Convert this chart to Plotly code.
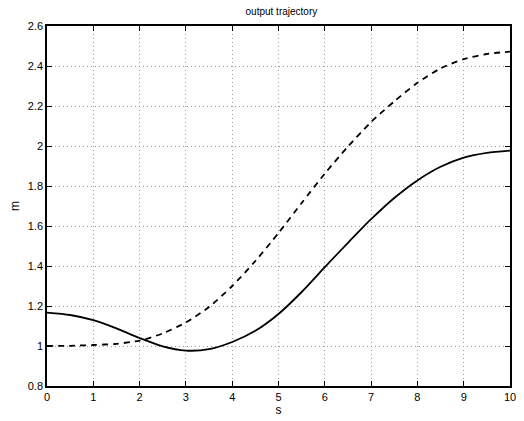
import plotly.graph_objects as go

x_vals = [0, 0.5, 1, 1.5, 2, 2.5, 3, 3.5, 4, 4.5, 5, 5.5, 6, 6.5, 7, 7.5, 8, 8.5, 9, 9.5, 10]
solid_vals = [1.167, 1.155, 1.129, 1.088, 1.04, 0.998, 0.977, 0.984, 1.02, 1.076, 1.16, 1.27, 1.394, 1.516,
              1.634, 1.74, 1.828, 1.896, 1.942, 1.966, 1.977]
dashed_vals = [1.0, 1.001, 1.005, 1.011, 1.027, 1.063, 1.118, 1.195, 1.30, 1.425, 1.565, 1.715, 1.862, 1.997,
               2.12, 2.223, 2.316, 2.388, 2.434, 2.46, 2.472]
x_ticks = [0, 1, 2, 3, 4, 5, 6, 7, 8, 9, 10]
y_ticks = [0.8, 1.0, 1.2, 1.4, 1.6, 1.8, 2.0, 2.2, 2.4, 2.6]
y_tick_text = ["0.8", "1", "1.2", "1.4", "1.6", "1.8", "2", "2.2", "2.4", "2.6"]

FONT = "Liberation Sans, Arial, sans-serif"

fig = go.Figure()
fig.add_trace(go.Scatter(x=x_vals, y=solid_vals, mode="lines",
                         line=dict(color="black", width=1.8, shape="spline", smoothing=0.7),
                         showlegend=False))
fig.add_trace(go.Scatter(x=x_vals, y=dashed_vals, mode="lines",
                         line=dict(color="black", width=1.8, dash="6px,5px", shape="spline", smoothing=0.7),
                         showlegend=False))

axis_common = dict(
    showline=True, linecolor="black", linewidth=1.5, mirror="allticks",
    ticks="inside", ticklen=5, tickcolor="black", tickwidth=1,
    showgrid=True, gridcolor="#9a9a9a", griddash="1px,3px", gridwidth=1,
    zeroline=False,
    tickfont=dict(family=FONT, size=11, color="black"),
)

fig.update_xaxes(range=[0, 10], tickvals=x_ticks,
                 title=dict(text="s", standoff=2, font=dict(family=FONT, size=12, color="black")),
                 **axis_common)
fig.update_yaxes(range=[0.8, 2.6], tickvals=y_ticks, ticktext=y_tick_text,
                 title=dict(text="m", standoff=6, font=dict(family=FONT, size=12, color="black")),
                 **axis_common)

fig.update_layout(
    width=524, height=421,
    margin=dict(l=47, r=8, t=26, b=29),
    paper_bgcolor="white", plot_bgcolor="white",
    title=dict(text="output trajectory", x=0.537, xanchor="center", y=0.972, yanchor="middle",
               font=dict(family=FONT, size=10, color="black")),
)

fig.write_html("out.html")
